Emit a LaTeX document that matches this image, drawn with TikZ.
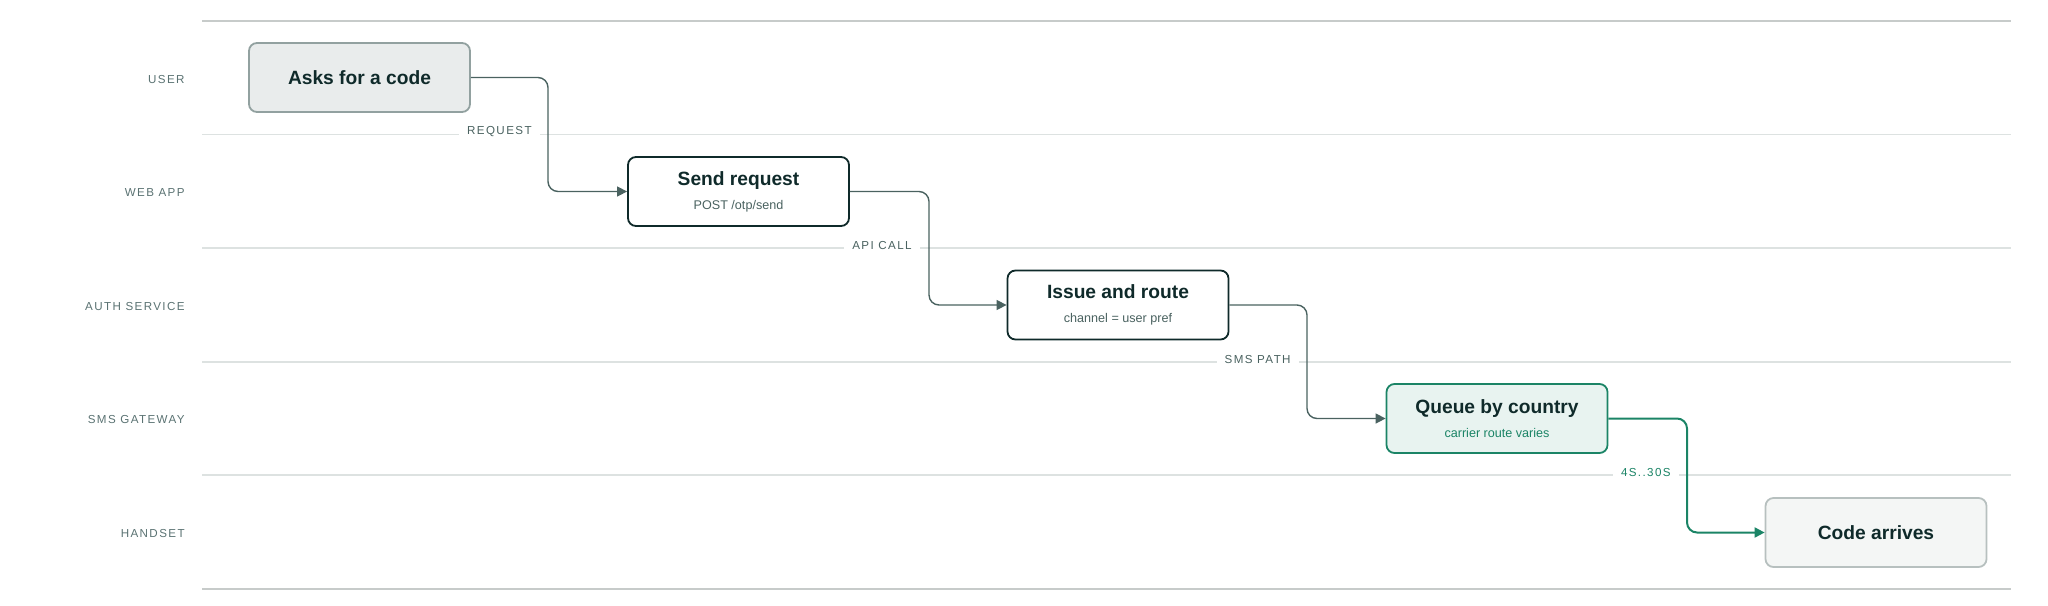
\documentclass[tikz,border=0pt]{standalone}
\usepackage{fontspec}
\setmainfont{Liberation Sans}
\newfontfamily\spaced[LetterSpace=12]{Liberation Sans}
\usetikzlibrary{arrows.meta}
\definecolor{ink}{HTML}{0F2A2A}
\definecolor{edge}{HTML}{4A6260}
\definecolor{lane}{HTML}{5A7272}
\definecolor{rule}{HTML}{DDE2E1}
\definecolor{grn}{HTML}{1B8466}
\begin{document}
\begin{tikzpicture}[x=0.5pt,y=-0.5pt,
  lanelbl/.style={anchor=east,inner sep=0pt,font=\spaced\fontsize{5.8}{7}\selectfont,text=lane},
  box/.style={draw=ink,line width=0.9pt,rounded corners=4pt,minimum width=110.5pt,minimum height=34.5pt,align=center,fill=white},
  conn/.style={draw=edge,line width=0.7pt,rounded corners=5pt,-{Triangle[length=5pt,width=5pt]}},
  elbl/.style={anchor=east,fill=white,inner xsep=4pt,inner ysep=1.5pt,font=\spaced\fontsize{5.8}{7}\selectfont,text=edge}]
\useasboundingbox (0,0) rectangle (2048,605);
\foreach \y in {134.5,248,362,475} \draw[rule,line width=0.6pt] (202,\y) -- (2011,\y);
\draw[rule!90!black,line width=0.9pt] (202,21) -- (2011,21);
\draw[rule!90!black,line width=0.9pt] (202,589) -- (2011,589);
\node[lanelbl] (l1) at (185,80) {USER};
\node[lanelbl] (l2) at (185,193) {WEB APP};
\node[lanelbl] (l3) at (185,307) {AUTH SERVICE};
\node[lanelbl] (l4) at (185,420) {SMS GATEWAY};
\node[lanelbl] (l5) at (185,533) {HANDSET};
\node[box,draw=edge!60!white,fill=edge!12!white] (a) at (359.5,77.5) {\fontsize{9.6}{11}\selectfont\bfseries\color{ink}Asks for a code};
\node[box] (b) at (738.5,191.5) {{\fontsize{9.6}{11}\selectfont\bfseries\color{ink}Send request}\\[0pt]{\fontsize{6.3}{8}\selectfont\color{edge}POST /otp/send}};
\node[box] (c) at (1118,305) {{\fontsize{9.6}{11}\selectfont\bfseries\color{ink}Issue and route}\\[0pt]{\fontsize{6.3}{8}\selectfont\color{edge}channel = user pref}};
\node[box,draw=grn,fill=grn!10!white] (d) at (1497,418.5) {{\fontsize{9.6}{11}\selectfont\bfseries\color{ink}Queue by country}\\[0pt]{\fontsize{6.3}{8}\selectfont\color{grn}carrier route varies}};
\node[box,draw=edge!40!white,fill=edge!6!white] (e) at (1876,532.5) {\fontsize{9.6}{11}\selectfont\bfseries\color{ink}Code arrives};
\node[elbl] (t1) at (540,132) {REQUEST};
\node[elbl] (t2) at (920,245.5) {API CALL};
\node[elbl] (t3) at (1299,359.5) {SMS PATH};
\node[elbl,text=grn] (t4) at (1679,472.5) {4S..30S};
\draw[conn] (a.east) -| (548,150) |- (b.west);
\draw[conn] (b.east) -| (929,260) |- (c.west);
\draw[conn] (c.east) -| (1307,380) |- (d.west);
\draw[conn,draw=grn,line width=1pt] (d.east) -| (1687,490) |- (e.west);
\end{tikzpicture}
\end{document}
